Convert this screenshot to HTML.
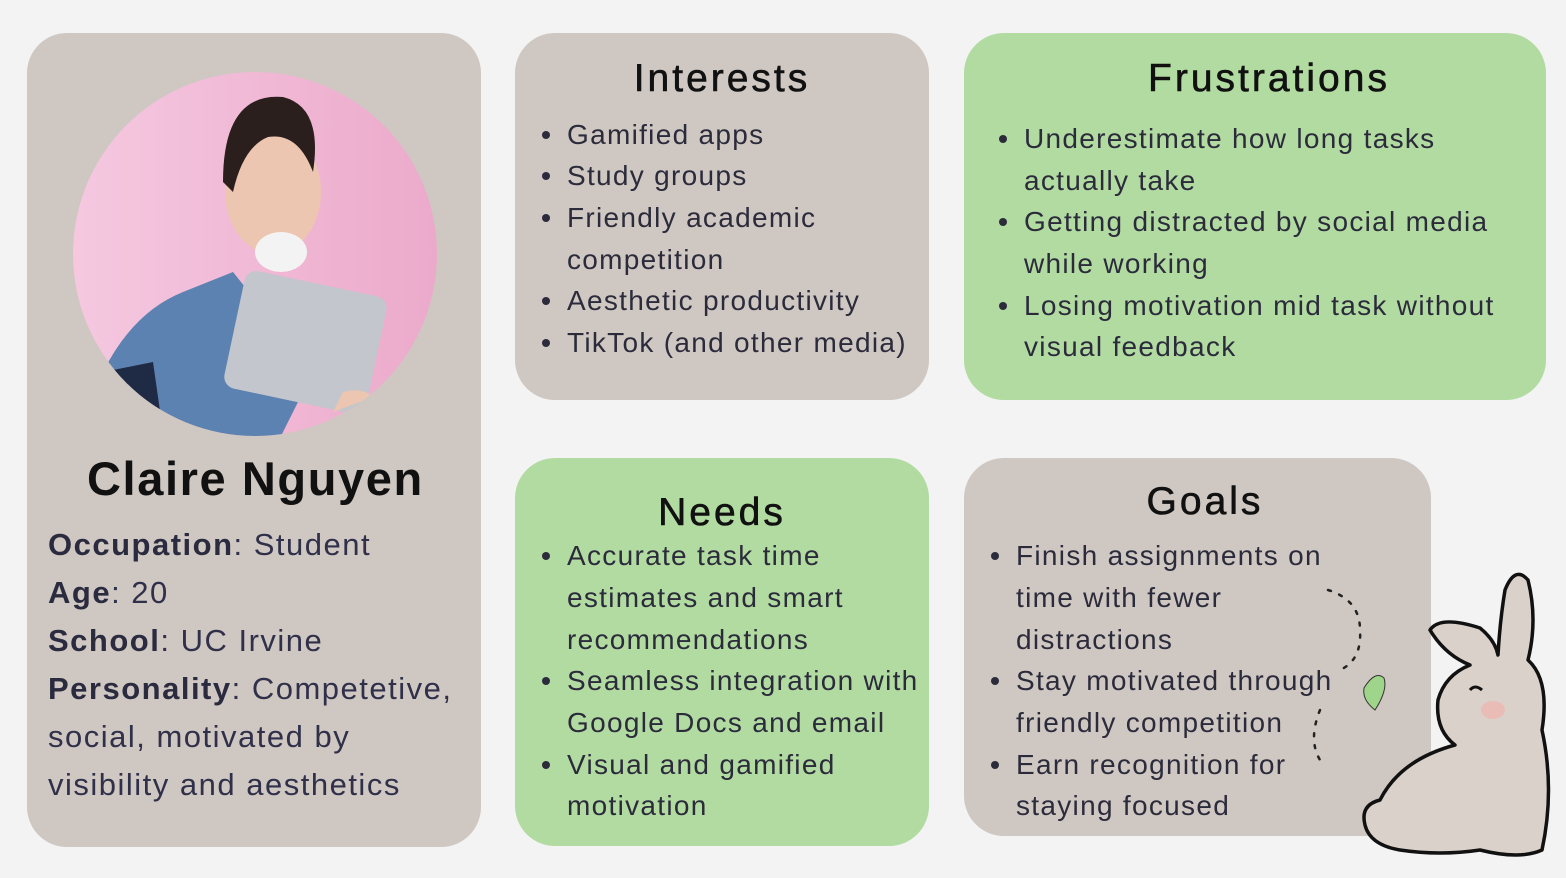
<!DOCTYPE html>
<html><head><meta charset="utf-8"><style>
body{margin:0;width:1566px;height:878px;background:#f3f3f3;position:relative;overflow:hidden;font-family:"Liberation Sans",sans-serif;color:#2b2b3b}
.c{position:absolute;border-radius:40px}
.tan{background:#cfc7c1}.grn{background:#b2dba1}
.t{position:absolute;white-space:nowrap;font-size:28px;line-height:1;letter-spacing:1.3px}
.h{position:absolute;white-space:nowrap;font-size:39px;line-height:1;color:#111;text-align:center;letter-spacing:3px;-webkit-text-stroke:0.6px #111}
.d{position:absolute;width:8px;height:8px;border-radius:50%;background:#2b2b3b}
.p{position:absolute;white-space:nowrap;font-size:31px;line-height:1;color:#30304a;letter-spacing:1.5px}
.p b{color:#2b2b40}
</style></head><body>
<div class="c tan" style="left:27px;top:33px;width:454px;height:814px"></div>
<div class="c tan" style="left:515px;top:33px;width:414px;height:367px"></div>
<div class="c grn" style="left:964px;top:33px;width:582px;height:367px"></div>
<div class="c grn" style="left:515px;top:458px;width:414px;height:388px"></div>
<div class="c tan" style="left:964px;top:458px;width:467px;height:378px;border-bottom-right-radius:0"></div>

<svg style="position:absolute;left:73px;top:72px" width="364" height="364" viewBox="0 0 364 364">
<defs><linearGradient id="g" x1="0" x2="1"><stop offset="0" stop-color="#f5c8e0"/><stop offset="1" stop-color="#ecaacb"/></linearGradient>
<clipPath id="cp"><circle cx="182" cy="182" r="182"/></clipPath></defs>
<circle cx="182" cy="182" r="182" fill="url(#g)"/>
<g clip-path="url(#cp)">
<path d="M30 300 Q60 240 110 220 L160 200 L240 300 L200 380 L30 380Z" fill="#5b82b0"/>
<path d="M30 300 L80 290 L90 360 L40 380Z" fill="#1f2a44"/>
<rect x="160" y="210" width="145" height="120" rx="12" fill="#c3c6cc" transform="rotate(12 230 270)"/>
<ellipse cx="200" cy="120" rx="48" ry="62" fill="#ecc6b0"/>
<path d="M150 110 Q150 20 210 25 Q250 35 240 100 Q225 60 195 65 Q170 75 160 120Z" fill="#2a1f1c"/>
<ellipse cx="208" cy="180" rx="26" ry="20" fill="#f3f3f3"/>
<path d="M270 320 Q290 315 300 325 L260 340Z" fill="#ecc6b0"/>
</g></svg>

<div class="t" style="left:87px;top:455px;font-size:47px;font-weight:bold;color:#111;letter-spacing:1.6px">Claire Nguyen</div>
<div class="p" style="left:48px;top:529px"><b>Occupation</b>: Student</div>
<div class="p" style="left:48px;top:577px"><b>Age</b>: 20</div>
<div class="p" style="left:48px;top:625px"><b>School</b>: UC Irvine</div>
<div class="p" style="left:48px;top:673px"><b>Personality</b>: Competetive,</div>
<div class="p" style="left:48px;top:721px">social, motivated by</div>
<div class="p" style="left:48px;top:769px">visibility and aesthetics</div>

<div class="h" style="left:515px;width:414px;top:59px">Interests</div>
<div class="d" style="left:542px;top:131px"></div><div class="t" style="left:567px;top:121px">Gamified apps</div>
<div class="d" style="left:542px;top:172px"></div><div class="t" style="left:567px;top:162px">Study groups</div>
<div class="d" style="left:542px;top:214px"></div><div class="t" style="left:567px;top:204px">Friendly academic</div>
<div class="t" style="left:567px;top:246px">competition</div>
<div class="d" style="left:542px;top:297px"></div><div class="t" style="left:567px;top:287px">Aesthetic productivity</div>
<div class="d" style="left:542px;top:339px"></div><div class="t" style="left:567px;top:329px">TikTok (and other media)</div>

<div class="h" style="left:964px;width:610px;top:59px">Frustrations</div>
<div class="d" style="left:999px;top:135px"></div><div class="t" style="left:1024px;top:125px">Underestimate how long tasks</div>
<div class="t" style="left:1024px;top:167px">actually take</div>
<div class="d" style="left:999px;top:218px"></div><div class="t" style="left:1024px;top:208px">Getting distracted by social media</div>
<div class="t" style="left:1024px;top:250px">while working</div>
<div class="d" style="left:999px;top:302px"></div><div class="t" style="left:1024px;top:292px">Losing motivation mid task without</div>
<div class="t" style="left:1024px;top:333px">visual feedback</div>

<div class="h" style="left:515px;width:414px;top:493px">Needs</div>
<div class="d" style="left:542px;top:552px"></div><div class="t" style="left:567px;top:542px">Accurate task time</div>
<div class="t" style="left:567px;top:584px">estimates and smart</div>
<div class="t" style="left:567px;top:626px">recommendations</div>
<div class="d" style="left:542px;top:677px"></div><div class="t" style="left:567px;top:667px">Seamless integration with</div>
<div class="t" style="left:567px;top:709px">Google Docs and email</div>
<div class="d" style="left:542px;top:761px"></div><div class="t" style="left:567px;top:751px">Visual and gamified</div>
<div class="t" style="left:567px;top:792px">motivation</div>

<div class="h" style="left:964px;width:482px;top:482px">Goals</div>
<div class="d" style="left:991px;top:552px"></div><div class="t" style="left:1016px;top:542px">Finish assignments on</div>
<div class="t" style="left:1016px;top:584px">time with fewer</div>
<div class="t" style="left:1016px;top:626px">distractions</div>
<div class="d" style="left:991px;top:677px"></div><div class="t" style="left:1016px;top:667px">Stay motivated through</div>
<div class="t" style="left:1016px;top:709px">friendly competition</div>
<div class="d" style="left:991px;top:761px"></div><div class="t" style="left:1016px;top:751px">Earn recognition for</div>
<div class="t" style="left:1016px;top:792px">staying focused</div>

<svg style="position:absolute;left:1280px;top:560px" width="286" height="318" viewBox="0 0 286 318">
<path d="M48 30 Q80 40 80 70 Q82 100 60 110 M40 150 Q28 180 40 200" fill="none" stroke="#222" stroke-width="2.5" stroke-dasharray="3 9" stroke-linecap="round"/>
<path d="M84 128 Q95 110 104 118 Q108 130 95 150 Q82 140 84 128Z" fill="#9fd58a" stroke="#333" stroke-width="1"/>
<path d="M150 70 Q160 55 200 68 Q215 80 218 95 Q220 60 225 30 Q235 5 248 20 Q258 60 248 100 Q270 120 262 170 Q275 230 262 290 Q240 300 200 290 Q160 296 120 290 Q90 285 85 265 Q80 245 100 240 Q120 200 175 185 Q155 170 158 140 Q165 115 190 105 Q165 95 150 70Z" fill="#d9d1ca" stroke="#111" stroke-width="3.5" stroke-linejoin="round"/>
<path d="M190 130 Q195 124 202 130" fill="none" stroke="#111" stroke-width="3"/>
<ellipse cx="213" cy="150" rx="12" ry="9" fill="#eabcb6"/>
</svg>
</body></html>
